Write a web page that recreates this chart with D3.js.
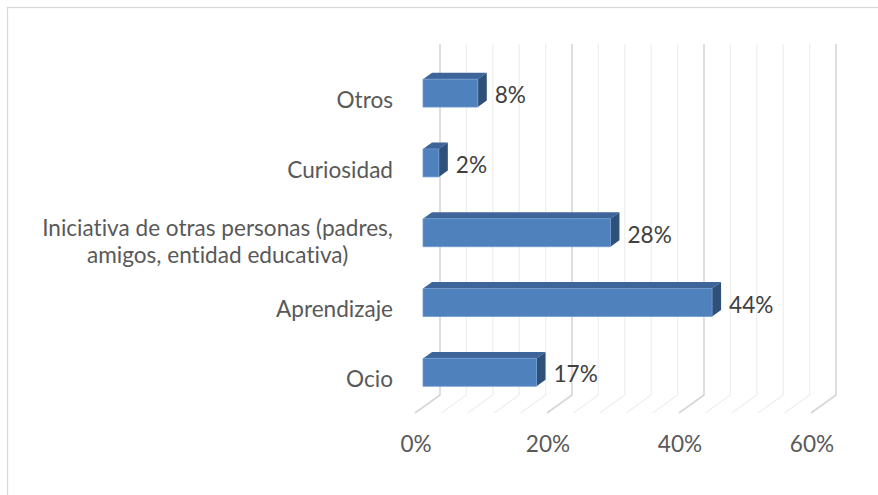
<!DOCTYPE html>
<html>
<head>
<meta charset="utf-8">
<script src="https://cdnjs.cloudflare.com/ajax/libs/d3/7.8.5/d3.min.js"></script>
<style>
  body { margin: 0; background: #fff; }
  svg { display: block; }
  text { font-family: Lato, "Open Sans", sans-serif; font-variant-ligatures: none; }
</style>
</head>
<body>
<div id="chart"></div>
<script>
// data
var categories = ["Otros", "Curiosidad", "Iniciativa", "Aprendizaje", "Ocio"];
var categoryLines = [
  ["Otros"],
  ["Curiosidad"],
  ["Iniciativa de otras personas (padres,", "amigos, entidad educativa)"],
  ["Aprendizaje"],
  ["Ocio"]
];
var values = [8.3, 2.4, 28.4, 43.8, 17.2];
var valueLabels = ["8%", "2%", "28%", "44%", "17%"];
var tickValues = [0, 20, 40, 60];
var tickLabels = ["0%", "20%", "40%", "60%"];
var gridValues = d3.range(0, 61, 4);

var width = 878, height = 495;

// fake 3d: front plane + a depth vector going back/up-right
var depth = {dx: 25, dy: -18};
var floorY = 413,   // front edge of the floor
    backTop = 44;   // top of the back wall
var barFront = 0.32, barBack = 0.68;

var x = d3.scaleLinear().domain([0, 60]).range([415, 811]);
var y = d3.scaleBand().domain(categories)
    .range([64, floorY])
    .paddingInner(0.6)
    .paddingOuter(0.3);

function pt(v, yy, f) {
  return [x(v) + depth.dx * f, yy + depth.dy * f];
}

var svg = d3.select("#chart").append("svg")
    .attr("width", width)
    .attr("height", height);

// chart frame
svg.append("rect")
    .attr("x", 7.5).attr("y", 7.5)
    .attr("width", 900).attr("height", 500)
    .attr("fill", "none")
    .attr("stroke", "#d9d9d9")
    .attr("stroke-width", 1.3);

// fit font size so the long label is about as wide as in the picture
var probe = svg.append("text").attr("font-size", 20).text(categoryLines[2][0]);
var fs = 20 * 351 / probe.node().getComputedTextLength();
probe.remove();

// gridlines: back wall + floor
var grid = svg.append("g").attr("class", "grid");
gridValues.forEach(function(v) {
  var major = v % 20 === 0;
  var b0 = pt(v, backTop - depth.dy, 1), b1 = pt(v, floorY, 1), f0 = pt(v, floorY, 0);
  grid.append("path")
      .attr("d", d3.line()([b0, b1, f0]))
      .attr("fill", "none")
      .attr("stroke", major ? "#d6d6d6" : "#efefef")
      .attr("stroke-width", major ? 1.6 : 1.3);
});

// bars
var bars = svg.append("g").attr("class", "bars");
categories.forEach(function(c, i) {
  var v = values[i];
  var y0 = y(c), y1 = y(c) + y.bandwidth();
  var g = bars.append("g");
  g.append("path")
      .attr("d", d3.line()([pt(0, y0, barFront), pt(v, y0, barFront), pt(v, y0, barBack), pt(0, y0, barBack)]) + "Z")
      .attr("fill", "#3d6599");
  g.append("path")
      .attr("d", d3.line()([pt(v, y0, barFront), pt(v, y0, barBack), pt(v, y1, barBack), pt(v, y1, barFront)]) + "Z")
      .attr("fill", "#2f5179");
  g.append("path")
      .attr("d", d3.line()([pt(0, y0, barFront), pt(v, y0, barFront), pt(v, y1, barFront), pt(0, y1, barFront)]) + "Z")
      .attr("fill", "#4f81bd")
      .attr("stroke", "#6f9bd2")
      .attr("stroke-width", 0.8);

  var lp = pt(v, (y0 + y1) / 2, barBack);
  svg.append("text")
      .attr("x", lp[0] + 8)
      .attr("y", (y0 + y1) / 2 + depth.dy * barFront + 2)
      .attr("dy", "0.36em")
      .attr("font-size", fs)
      .attr("fill", "#404040")
      .text(valueLabels[i]);
});

// category labels (multi-line ones are centred as a block, block right-aligned)
var catG = svg.append("g").attr("class", "y axis");
categories.forEach(function(c, i) {
  var lines = categoryLines[i];
  var cy = y(c) + y.bandwidth() / 2;
  var t = catG.append("text")
      .attr("font-size", fs)
      .attr("fill", "#595959");
  lines.forEach(function(s, j) {
    var off = (j - (lines.length - 1) / 2) * 27 + (lines.length > 1 ? 3 : 1);
    t.append("tspan")
        .attr("x", 0)
        .attr("y", cy + off)
        .attr("dy", "0.36em")
        .text(s);
  });
  var bw = t.node().getBBox().width;
  if (lines.length > 1) {
    t.attr("text-anchor", "middle").selectAll("tspan").attr("x", 393 - bw / 2);
  } else {
    t.attr("text-anchor", "end").selectAll("tspan").attr("x", 393);
  }
});

// value axis labels
svg.append("g").attr("class", "x axis")
  .selectAll("text")
  .data(tickValues)
  .enter().append("text")
    .attr("x", function(d) { return x(d) + 1; })
    .attr("y", 444)
    .attr("dy", "0.36em")
    .attr("text-anchor", "middle")
    .attr("font-size", fs)
    .attr("fill", "#595959")
    .text(function(d, i) { return tickLabels[i]; });
</script>
</body>
</html>
